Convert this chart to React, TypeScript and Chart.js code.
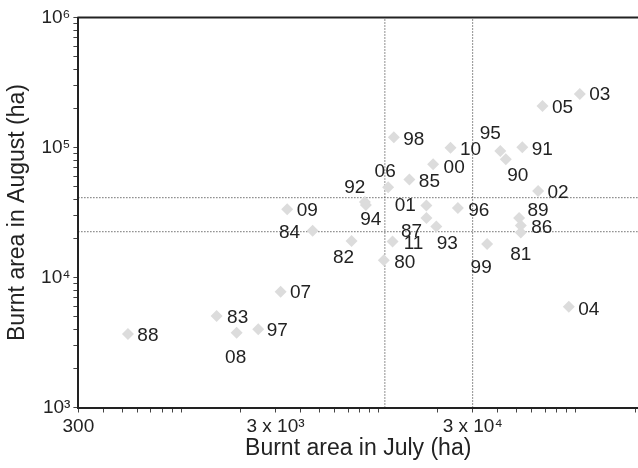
import React, { useEffect, useRef } from "react";
import { Chart, registerables } from "chart.js";

Chart.register(...registerables);

const years = ["88","83","08","97","07","09","84","82","92","94","80","11","98","06","85","01","87","93","00","10","96","99","95","90","91","89","86","81","02","05","03","04"];
const julyArea = [535,1508,1905,2452,3184,3439,4627,7295,8518,8619,10630,11770,11950,11180,14330,17470,17490,19630,18910,23170,25240,35530,41450,44200,53590,51630,52660,52660,64450,67860,104900,92240];
const augustArea = [3670,5060,3760,4000,7780,33500,22900,19100,38100,36100,13600,18900,119800,49400,56700,35800,28700,24700,74300,99700,34200,18100,94000,81200,100500,28700,25100,22200,46300,208500,257900,5960];
// label offsets (px) relative to each marker
const labelOffsets: [number, number][] = [[20,2],[21,2],[-1,25],[19,2],[20,1],[20,2],[-23,2],[-8,17],[-10,-14],[5,15],[21,3],[21,2],[20,2],[-3,-16],[20,2],[-21,0],[-15,14],[11,17],[21,3],[20,2],[21,3],[-6,24],[-10,-17],[12,17],[20,3],[19,-7],[21,2],[0,22],[20,2],[20,2],[20,1],[20,3]];

const julyRefLines = [10760, 30000];
const augustRefLines = [41100, 22500];

const xMin = 300, xMax = 207000, yMin = 1000, yMax = 1000000;
const xLabeledTicks = [300, 3000, 30000];
const xTickText = ["300", "3 x 10³", "3 x 10⁴"];
const yLabeledTicks = [1000, 10000, 100000, 1000000];
const yTickText = ["10³", "10⁴", "10⁵", "10⁶"];

const FONT = "'Liberation Sans', Arial, Helvetica, sans-serif";

function logTicks(min: number, max: number) {
  const out: { value: number }[] = [];
  let dec = Math.pow(10, Math.floor(Math.log10(min)));
  while (dec <= max) {
    for (let m = 1; m <= 9; m++) {
      const v = m * dec;
      if (v >= min - 1e-9 && v <= max + 1e-9) out.push({ value: v });
    }
    dec *= 10;
  }
  return out;
}

export default function App() {
  const ref = useRef<HTMLCanvasElement>(null);
  useEffect(() => {
    if (!ref.current) return;
    const labelPlugin = {
      id: "yearLabels",
      afterDatasetsDraw(chart: any) {
        const ctx = chart.ctx;
        const meta = chart.getDatasetMeta(0);
        ctx.save();
        ctx.font = `19px ${FONT}`;
        ctx.fillStyle = "#222";
        ctx.textAlign = "center";
        ctx.textBaseline = "middle";
        meta.data.forEach((el: any, i: number) => {
          const [dx, dy] = labelOffsets[i];
          ctx.fillText(years[i], el.x + dx, el.y + dy);
        });
        ctx.restore();
      },
    };
    const framePlugin = {
      id: "topFrame",
      afterDraw(chart: any) {
        const { ctx, chartArea } = chart;
        ctx.save();
        ctx.strokeStyle = "#222";
        ctx.lineWidth = 2;
        ctx.beginPath();
        ctx.moveTo(chartArea.left - 1, chartArea.top);
        ctx.lineTo(chartArea.right, chartArea.top);
        ctx.stroke();
        ctx.restore();
      },
    };
    const dotted = {
      borderColor: "#222",
      borderWidth: 1,
      borderDash: [1, 2],
      pointRadius: 0,
      showLine: true,
      fill: false,
      order: 2,
    };
    const datasets: any[] = [
      {
        type: "scatter",
        data: julyArea.map((x, i) => ({ x, y: augustArea[i] })),
        pointStyle: "rectRot",
        pointRadius: 6,
        backgroundColor: "#dcdcdc",
        borderWidth: 0,
        order: 0,
      },
      ...julyRefLines.map((x) => ({ type: "line", data: [{ x, y: yMin }, { x, y: yMax }], ...dotted })),
      ...augustRefLines.map((y) => ({ type: "line", data: [{ x: xMin, y }, { x: xMax, y }], ...dotted })),
    ];
    const chart = new Chart(ref.current, {
      type: "scatter",
      data: { datasets },
      options: {
        animation: false,
        responsive: false,
        maintainAspectRatio: false,
        layout: { autoPadding: false, padding: { top: 17.5, right: 0, left: 0, bottom: 0 } },
        plugins: { legend: { display: false }, tooltip: { enabled: false } },
        scales: {
          x: {
            type: "logarithmic",
            min: xMin,
            max: xMax,
            afterBuildTicks: (s: any) => { s.ticks = logTicks(xMin, xMax); },
            afterFit: (s: any) => { s.height = 60.5; s.paddingRight = 0; s.paddingLeft = 0; },
            ticks: {
              autoSkip: false,
              maxRotation: 0,
              padding: 3,
              color: "#222",
              font: { family: FONT, size: 19 },
              callback: (v: any) => {
                const i = xLabeledTicks.indexOf(Number(v));
                return i >= 0 ? xTickText[i] : "";
              },
            },
            grid: { drawOnChartArea: false, drawTicks: true, tickLength: 5, color: "#444" },
            border: { display: true, color: "#222", width: 2 },
            title: {
              display: true,
              text: "Burnt area in July (ha)",
              color: "#222",
              font: { family: FONT, size: 23 },
              padding: { top: 0, bottom: 6 },
            },
          },
          y: {
            type: "logarithmic",
            min: yMin,
            max: yMax,
            afterBuildTicks: (s: any) => { s.ticks = logTicks(yMin, yMax); },
            afterFit: (s: any) => { s.width = 78.4; s.paddingTop = 0; s.paddingBottom = 0; },
            ticks: {
              autoSkip: false,
              padding: 3,
              color: "#222",
              font: { family: FONT, size: 19 },
              callback: (v: any) => {
                const i = yLabeledTicks.indexOf(Number(v));
                return i >= 0 ? yTickText[i] : "";
              },
            },
            grid: { drawOnChartArea: false, drawTicks: true, tickLength: 5, color: "#444" },
            border: { display: true, color: "#222", width: 2 },
            title: {
              display: true,
              text: "Burnt area in August (ha)",
              color: "#222",
              font: { family: FONT, size: 23 },
              padding: { top: 4, bottom: 0 },
            },
          },
        },
      } as any,
      plugins: [labelPlugin, framePlugin],
    });
    return () => chart.destroy();
  }, []);
  return (
    <div style={{ position: "absolute", left: 0, top: 0, width: 638, height: 468, background: "#fff" }}>
      <canvas ref={ref} width={638} height={468} style={{ display: "block", width: 638, height: 468 }} />
    </div>
  );
}
